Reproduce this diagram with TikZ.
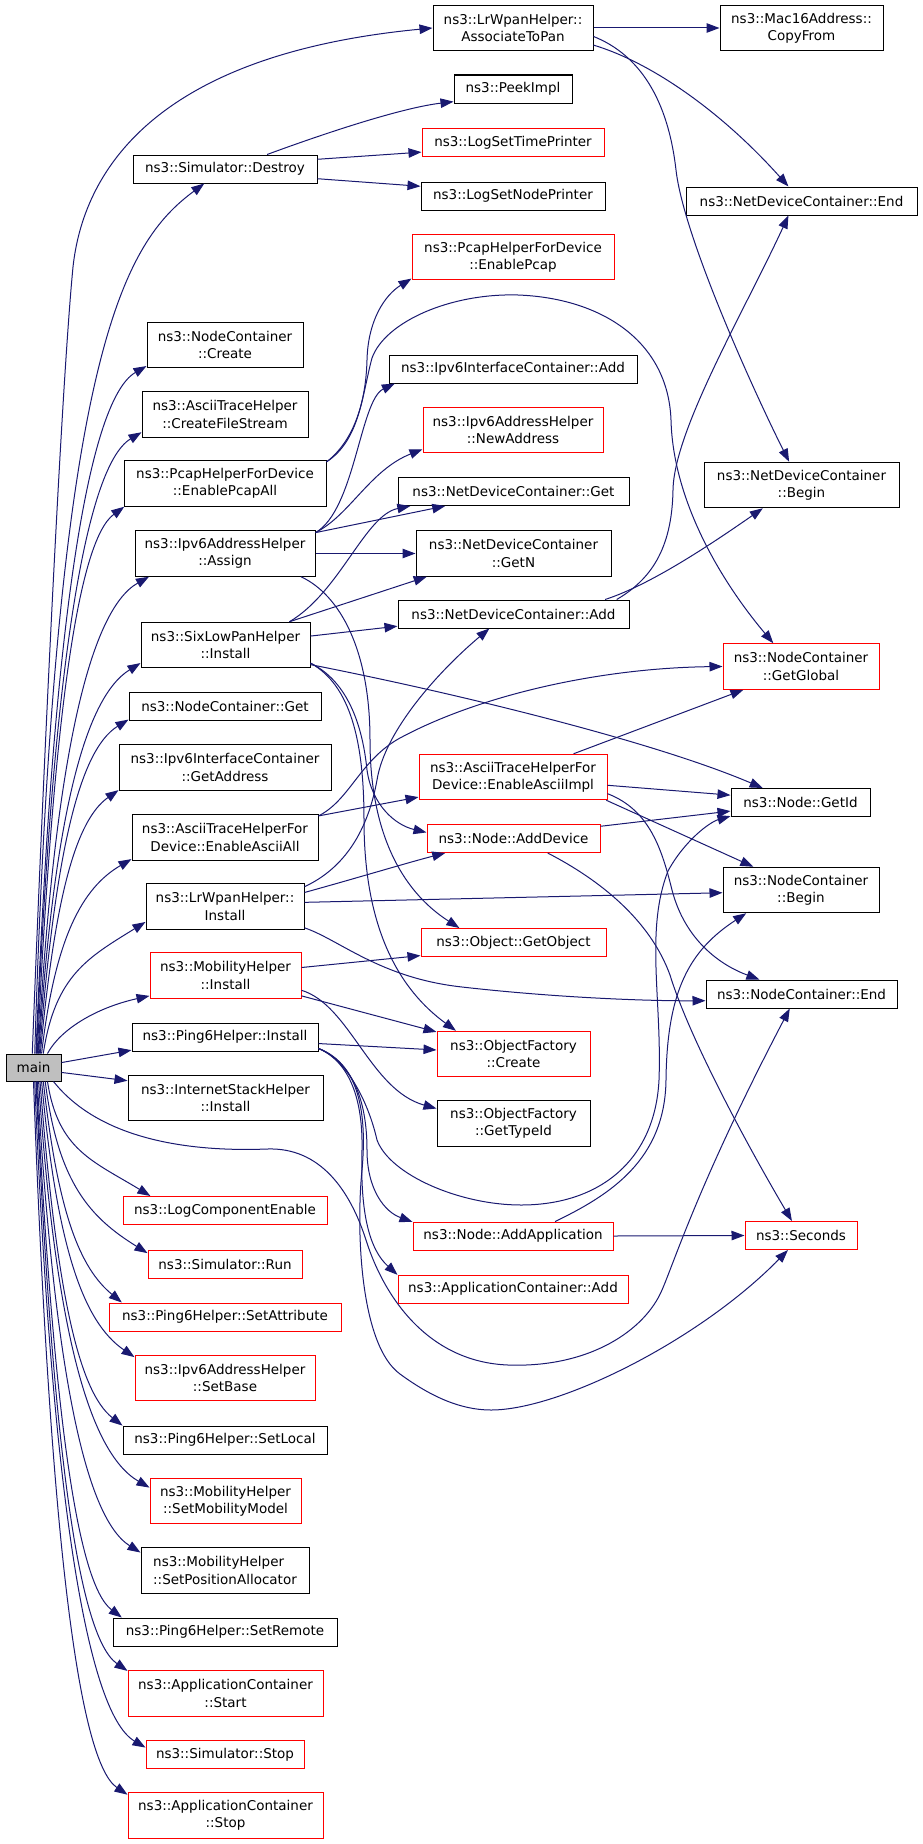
\documentclass[tikz,border=0pt]{standalone}
\usepackage{fontspec}
\setmainfont{DejaVu Sans}
\usetikzlibrary{arrows.meta}
\definecolor{edgeblue}{HTML}{191970}
\begin{document}
\begin{tikzpicture}[x=1pt, y=-1pt, font={\fontsize{13.5}{17.3}\selectfont}]
  \tikzstyle{func} = [draw, text centered, align=center, inner sep=0pt,
    minimum height=28pt, line width=1pt]
  \tikzstyle{funcred} = [func, draw=red]
  \tikzstyle{tall} = [minimum height=45.5pt]
  \tikzstyle{call} = [-{Triangle[length=13pt, width=9.5pt]}, draw=edgeblue,
    line width=1pt]
  \useasboundingbox (0,0) rectangle (923,1844);

  % caller
  \node [func, fill=black!25, minimum width=55pt, minimum height=27pt] at (33.5,1067.5) (main) {main};

  % first column
  \node [func, minimum width=184pt] at (225,169) (destroy) {ns3::Simulator::Destroy};
  \node [func, tall, minimum width=156pt] at (225,345) (create) {ns3::NodeContainer\\::Create};
  \node [func, tall, minimum width=166pt] at (225,414.5) (filestream) {ns3::AsciiTraceHelper\\::CreateFileStream};
  \node [func, tall, minimum width=202pt] at (225,483.5) (pcapall) {ns3::PcapHelperForDevice\\::EnablePcapAll};
  \node [func, tall, minimum width=180pt] at (225,553.5) (assign) {ns3::Ipv6AddressHelper\\::Assign};
  \node [func, tall, minimum width=169pt] at (225.5,645) (sixlowpan) {ns3::SixLowPanHelper\\::Install};
  \node [func, minimum width=192pt] at (225,706) (ncget) {ns3::NodeContainer::Get};
  \node [func, tall, minimum width=212pt] at (225,767.5) (getaddress) {ns3::Ipv6InterfaceContainer\\::GetAddress};
  \node [func, tall, minimum width=186pt] at (225,837.5) (asciiall) {ns3::AsciiTraceHelperFor\\Device::EnableAsciiAll};
  \node [func, tall, minimum width=158pt] at (225,906.5) (lrwpan) {ns3::LrWpanHelper::\\Install};
  \node [funcred, tall, minimum width=151pt] at (225.5,975.5) (mobinstall) {ns3::MobilityHelper\\::Install};
  \node [func, minimum width=186pt] at (225,1037) (ping6install) {ns3::Ping6Helper::Install};
  \node [func, tall, minimum width=195pt] at (225.5,1098) (inetstack) {ns3::InternetStackHelper\\::Install};
  \node [funcred, minimum width=204pt] at (225,1210.5) (logcomp) {ns3::LogComponentEnable};
  \node [funcred, minimum width=154pt] at (225,1264) (run) {ns3::Simulator::Run};
  \node [funcred, minimum width=232pt] at (225,1317) (setattr) {ns3::Ping6Helper::SetAttribute};
  \node [funcred, tall, minimum width=180pt] at (225,1378) (setbase) {ns3::Ipv6AddressHelper\\::SetBase};
  \node [func, minimum width=204pt] at (225,1440) (setlocal) {ns3::Ping6Helper::SetLocal};
  \node [funcred, tall, minimum width=151pt] at (225.5,1501) (setmob) {ns3::MobilityHelper\\::SetMobilityModel};
  \node [func, tall, align=left, minimum width=168pt] at (225,1570.5) (setpos) {ns3::MobilityHelper\\::SetPositionAllocator};
  \node [func, minimum width=224pt] at (225,1632) (setremote) {ns3::Ping6Helper::SetRemote};
  \node [funcred, tall, minimum width=195pt] at (225.5,1693.5) (appstart) {ns3::ApplicationContainer\\::Start};
  \node [funcred, minimum width=158pt] at (225,1754.5) (simstop) {ns3::Simulator::Stop};
  \node [funcred, tall, minimum width=195pt] at (225.5,1815.5) (appstop) {ns3::ApplicationContainer\\::Stop};

  % second column
  \node [func, tall, minimum width=160pt] at (513,28) (assoc) {ns3::LrWpanHelper::\\AssociateToPan};
  \node [func, minimum width=118pt] at (513,89) (peek) {ns3::PeekImpl};
  \node [funcred, minimum width=182pt] at (513,142.5) (timeprinter) {ns3::LogSetTimePrinter};
  \node [func, minimum width=184pt] at (513,196) (nodeprinter) {ns3::LogSetNodePrinter};
  \node [funcred, tall, minimum width=202pt] at (513,257) (pcap) {ns3::PcapHelperForDevice\\::EnablePcap};
  \node [func, minimum width=248pt] at (513,369) (ifadd) {ns3::Ipv6InterfaceContainer::Add};
  \node [funcred, tall, minimum width=180pt] at (513,430) (newaddr) {ns3::Ipv6AddressHelper\\::NewAddress};
  \node [func, minimum width=231pt] at (513.5,491.5) (ndcget) {ns3::NetDeviceContainer::Get};
  \node [func, tall, minimum width=195pt] at (513.5,553.5) (ndcgetn) {ns3::NetDeviceContainer\\::GetN};
  \node [func, minimum width=231pt] at (513.5,614) (ndcadd) {ns3::NetDeviceContainer::Add};
  \node [funcred, tall, minimum width=188pt] at (513,777) (asciiimpl) {ns3::AsciiTraceHelperFor\\Device::EnableAsciiImpl};
  \node [funcred, minimum width=173pt] at (513.5,838.5) (adddevice) {ns3::Node::AddDevice};
  \node [funcred, minimum width=185pt] at (513.5,942.5) (getobject) {ns3::Object::GetObject};
  \node [funcred, tall, minimum width=153pt] at (513.5,1054) (ofcreate) {ns3::ObjectFactory\\::Create};
  \node [func, tall, minimum width=153pt] at (513.5,1123.5) (gettypeid) {ns3::ObjectFactory\\::GetTypeId};
  \node [funcred, minimum width=200pt] at (513,1236) (addapp) {ns3::Node::AddApplication};
  \node [funcred, minimum width=230pt] at (513,1289) (appadd) {ns3::ApplicationContainer::Add};

  % third column
  \node [func, tall, minimum width=163pt] at (801.5,28) (copyfrom) {ns3::Mac16Address::\\CopyFrom};
  \node [func, minimum width=231pt] at (801.5,201) (ndcend) {ns3::NetDeviceContainer::End};
  \node [func, tall, minimum width=195pt] at (801.5,485) (ndcbegin) {ns3::NetDeviceContainer\\::Begin};
  \node [funcred, tall, minimum width=156pt] at (801,666.5) (getglobal) {ns3::NodeContainer\\::GetGlobal};
  \node [func, minimum width=139pt] at (800.5,802.5) (getid) {ns3::Node::GetId};
  \node [func, tall, minimum width=156pt] at (801,890) (ncbegin) {ns3::NodeContainer\\::Begin};
  \node [func, minimum width=191pt] at (801.5,994) (ncend) {ns3::NodeContainer::End};
  \node [funcred, minimum width=112pt] at (801,1235.5) (seconds) {ns3::Seconds};

  % calls made by main, upwards
  \draw[call] (main.95) .. controls (44,750) and (62,380) .. (73,267) .. controls (83,175) and (150,55) .. (assoc.west);
  \draw[call] (main.85) .. controls (56,350) and (124,243) .. (destroy.215);
  \draw[call] (main.80) .. controls (52,641) and (86,401) .. (create.195);
  \draw[call] (main.78) .. controls (52,681) and (84,467) .. (filestream.192);
  \draw[call] (main.75) .. controls (53,725) and (77,541) .. (pcapall.193);
  \draw[call] (main.72) .. controls (54,767) and (88,611) .. (assign.197);
  \draw[call] (main.70) .. controls (54,819) and (84,698) .. (sixlowpan.192);
  \draw[call] (main.67) .. controls (55,854) and (79,750) .. (ncget.188);
  \draw[call] (main.64) .. controls (55,896) and (76,820) .. (getaddress.192);
  \draw[call] (main.60) .. controls (55,938) and (82,888) .. (asciiall.193);
  \draw[call] (main.55) .. controls (55,975) and (89,957) .. (lrwpan.191);
  \draw[call] (main.45) .. controls (60,1030) and (95,1008) .. (mobinstall.195);
  \draw[call] (main.10) -- (ping6install.188);
  \draw[call] (main.-10) -- (inetstack.170);
  % calls made by main, downwards
  \draw[call] (main.-45) .. controls (58,1150) and (93,1161) .. (logcomp.169);
  \draw[call] (main.-50) .. controls (58,1184) and (91,1218) .. (run.172);
  \draw[call] (main.-55) .. controls (58,1214) and (80,1268) .. (setattr.172);
  \draw[call] (main.-60) .. controls (57,1247) and (83,1322) .. (setbase.167);
  \draw[call] (main.-65) .. controls (56,1288) and (78,1391) .. (setlocal.172);
  \draw[call] (main.-70) .. controls (55,1325) and (88,1452) .. (setmob.170);
  \draw[call] (main.-75) .. controls (54,1364) and (84,1517) .. (setpos.168);
  \draw[call] (main.-78) .. controls (53,1403) and (76,1583) .. (setremote.172);
  \draw[call] (main.-80) .. controls (52,1435) and (77,1636) .. (appstart.167);
  \draw[call] (main.-85) .. controls (51,1481) and (85,1712) .. (simstop.175);
  \draw[call] (main.-90) .. controls (49,1509) and (76,1760) .. (appstop.168);
  \draw[call] (main.-35) .. controls (100,1140) and (190,1152) .. (267,1149) .. controls (320,1147) and (350,1190) .. (366,1240)
    .. controls (385,1300) and (430,1362) .. (508,1365) .. controls (590,1368) and (645,1330) .. (662,1290)
    .. controls (675,1260) and (700,1180) .. (ncend.231);

  % second level
  \draw[call] (destroy.19) .. controls (320,135) and (400,108) .. (peek.192);
  \draw[call] (destroy.6) -- (timeprinter.186);
  \draw[call] (destroy.-6) -- (nodeprinter.174);
  \draw[call] (assoc.east) -- (copyfrom.west);
  \draw[call] (assoc.-12) .. controls (650,62) and (720,110) .. (ndcend.132);
  \draw[call] (assoc.-6) .. controls (640,55) and (668,100) .. (676,170) .. controls (684,240) and (759,402) .. (ndcbegin.118);
  \draw[call] (pcapall.12) .. controls (355,440) and (366,400) .. (367,360) .. controls (368,320) and (385,295) .. (pcap.192);
  \draw[call] (pcapall.12) .. controls (360,440) and (362,395) .. (372,358) .. controls (385,322) and (450,293) .. (518,295)
    .. controls (600,298) and (668,340) .. (671,420) .. controls (673,500) and (720,580) .. (getglobal.140);
  \draw[call] (assign.13) .. controls (355,510) and (360,400) .. (ifadd.187);
  \draw[call] (assign.13) .. controls (350,515) and (370,470) .. (newaddr.192);
  \draw[call] (assign.13) -- (ndcget.192);
  \draw[call] (assign.east) -- (ndcgetn.west);
  \draw[call] (assign.-17) .. controls (340,595) and (370,650) .. (370,740) .. controls (370,830) and (400,890) .. (getobject.165);
  \draw[call] (sixlowpan.6) -- (ndcadd.186);
  \draw[call] (sixlowpan.20) .. controls (340,592) and (365,515) .. (ndcget.188);
  \draw[call] (sixlowpan.20) -- (ndcgetn.195);
  \draw[call] (sixlowpan.-13) .. controls (450,692) and (650,740) .. (getid.159);
  \draw[call] (sixlowpan.-12) .. controls (345,680) and (362,720) .. (367,770) .. controls (372,805) and (395,825) .. (adddevice.176);
  \draw[call] (sixlowpan.-12) .. controls (350,685) and (364,740) .. (364,820) .. controls (364,930) and (400,990) .. (ofcreate.158);
  \draw[call] (ndcadd.9) .. controls (650,585) and (710,545) .. (ndcbegin.211);
  \draw[call] (ndcadd.8) .. controls (650,580) and (672,550) .. (673,490) .. controls (674,430) and (745,310) .. (ndcend.228);
  \draw[call] (asciiall.13) -- (asciiimpl.192);
  \draw[call] (asciiall.13) .. controls (350,800) and (360,760) .. (400,738) .. controls (480,695) and (600,668) .. (getglobal.west);
  \draw[call] (lrwpan.10) .. controls (350,880) and (410,862) .. (adddevice.192);
  \draw[call] (lrwpan.14) .. controls (345,868) and (368,830) .. (377,780) .. controls (385,730) and (440,670) .. (ndcadd.211);
  \draw[call] (lrwpan.3) -- (ncbegin.182);
  \draw[call] (lrwpan.-15) .. controls (340,940) and (380,978) .. (462,987) .. controls (550,997) and (640,1001) .. (ncend.184);
  \draw[call] (mobinstall.6) -- (getobject.188);
  \draw[call] (mobinstall.-15) -- (ofcreate.164);
  \draw[call] (mobinstall.-11) .. controls (350,1005) and (370,1090) .. (gettypeid.169);
  \draw[call] (ping6install.-4) -- (ofcreate.177);
  \draw[call] (ping6install.-7) .. controls (352,1062) and (367,1100) .. (367,1150) .. controls (367,1190) and (385,1212) .. (addapp.172);
  \draw[call] (ping6install.-7) .. controls (350,1062) and (363,1100) .. (362,1150) .. controls (360,1215) and (370,1250) .. (appadd.173);
  \draw[call] (ping6install.-7) .. controls (355,1062) and (368,1105) .. (362,1170) .. controls (356,1230) and (360,1345) .. (400,1374)
    .. controls (430,1396) and (460,1410) .. (491,1410) .. controls (560,1410) and (700,1340) .. (seconds.228);
  \draw[call] (ping6install.-7) .. controls (345,1058) and (368,1100) .. (377,1140) .. controls (390,1175) and (460,1205) .. (521,1205)
    .. controls (600,1205) and (655,1160) .. (659,1080) .. controls (662,1000) and (645,930) .. (668,871)
    .. controls (685,840) and (710,822) .. (getid.191);

  % third level
  \draw[call] (asciiimpl.21) -- (getglobal.202);
  \draw[call] (asciiimpl.-5) -- (getid.174);
  \draw[call] (asciiimpl.-14) -- (ncbegin.154);
  \draw[call] (asciiimpl.-10) .. controls (650,810) and (662,850) .. (672,890) .. controls (685,940) and (720,965) .. (ncend.161);
  \draw[call] (adddevice.8) -- (getid.187);
  \draw[call] (adddevice.-23) .. controls (600,880) and (650,920) .. (670,975) .. controls (690,1040) and (750,1150) .. (seconds.122);
  \draw[call] (addapp.east) -- (seconds.west);
  \draw[call] (addapp.19) .. controls (610,1195) and (665,1160) .. (666,1080) .. controls (667,990) and (690,950) .. (ncbegin.203);
\end{tikzpicture}
\end{document}
